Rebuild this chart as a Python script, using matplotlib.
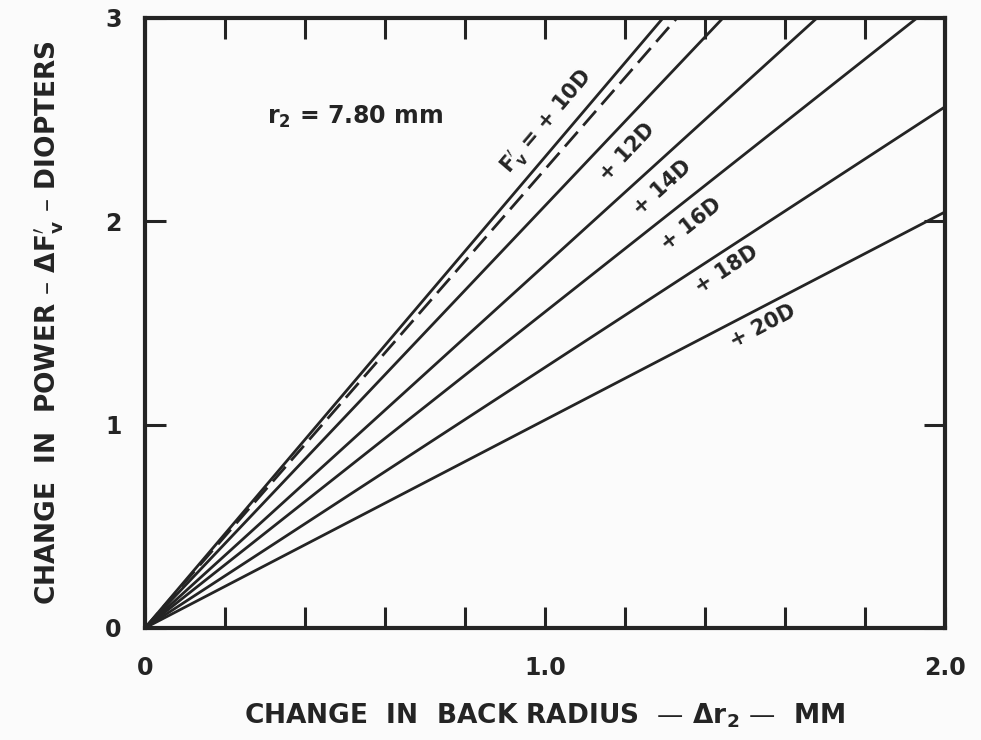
import numpy as np
import matplotlib
matplotlib.use("Agg")
import matplotlib.pyplot as plt

plt.rcParams['font.family'] = ['DejaVu Sans']
plt.rcParams['font.weight'] = 'bold'
plt.rcParams['axes.labelweight'] = 'bold'
plt.rcParams['mathtext.fontset'] = 'dejavusans'
plt.rcParams['mathtext.default'] = 'bf'

INK = '#242424'

# Each curve runs from the origin to the point where it leaves the plot box
curve_labels = ["+10D", "+10D (dashed)", "+12D", "+14D", "+16D", "+18D", "+20D"]
end_dr2 = [1.295, 1.33, 1.445, 1.68, 1.93, 2.0, 2.0]
end_dpower = [3.0, 3.0, 3.0, 3.0, 3.0, 2.563, 2.046]
curve_styles = ['-', (0, (7, 3)), '-', '-', '-', '-', '-']

# Inline annotations (text, x, y)
annot_text = [r"F$_{v}^{\prime}$ = + 10D", "+ 12D", "+ 14D", "+ 16D", "+ 18D", "+ 20D"]
annot_curve = [0, 2, 3, 4, 5, 6]
annot_x = [1.005, 1.205, 1.2925, 1.365, 1.455, 1.545]
annot_y = [2.49, 2.341, 2.164, 1.987, 1.761, 1.486]

x_ticks = [0, 0.2, 0.4, 0.6, 0.8, 1.0, 1.2, 1.4, 1.6, 1.8, 2.0]
x_ticklabels = ["0", "", "", "", "", "1.0", "", "", "", "", "2.0"]
y_ticks = [0, 1, 2, 3]
y_ticklabels = ["0", "1", "2", "3"]

fig = plt.figure(figsize=(9.81, 7.40), dpi=100, facecolor='#fbfbfb')
ax = fig.add_axes([0.1478, 0.1514, 0.8155, 0.8243])
ax.set_facecolor('#fbfbfb')

for ex, ey, ls in zip(end_dr2, end_dpower, curve_styles):
    ax.plot([0, ex], [0, ey], color=INK, lw=2.0, linestyle=ls,
            solid_capstyle='butt', clip_on=True)

for txt, ci, tx, ty in zip(annot_text, annot_curve, annot_x, annot_y):
    slope = end_dpower[ci] / end_dr2[ci]
    ax.text(tx, ty, txt, fontsize=15, color=INK, ha='center', va='center',
            rotation=np.degrees(np.arctan(slope)), rotation_mode='anchor',
            transform_rotates_text=True)

ax.text(0.305, 2.513, r"r$_{2}$ = 7.80 mm", fontsize=17, color=INK,
        ha='left', va='center')

ax.set_xlim(0, 2.0)
ax.set_ylim(0, 3)
ax.set_xticks(x_ticks)
ax.set_xticklabels(x_ticklabels)
ax.set_yticks(y_ticks)
ax.set_yticklabels(y_ticklabels)
ax.tick_params(direction='in', length=15, width=2.2, color=INK,
               labelsize=17, labelcolor=INK,
               top=True, right=True)
ax.tick_params(axis='x', pad=20)
ax.tick_params(axis='y', pad=17)
for sp in ax.spines.values():
    sp.set_linewidth(3.0)
    sp.set_color(INK)

ax.set_xlabel("CHANGE  IN  BACK RADIUS  — Δr$_{2}$ —  MM",
              fontsize=19, color=INK, labelpad=16)
ax.set_ylabel("CHANGE  IN  POWER – ΔF$_{v}^{\\prime}$ – DIOPTERS",
              fontsize=19, color=INK, labelpad=28)

fig.savefig("out.png", dpi=100, facecolor=fig.get_facecolor())
